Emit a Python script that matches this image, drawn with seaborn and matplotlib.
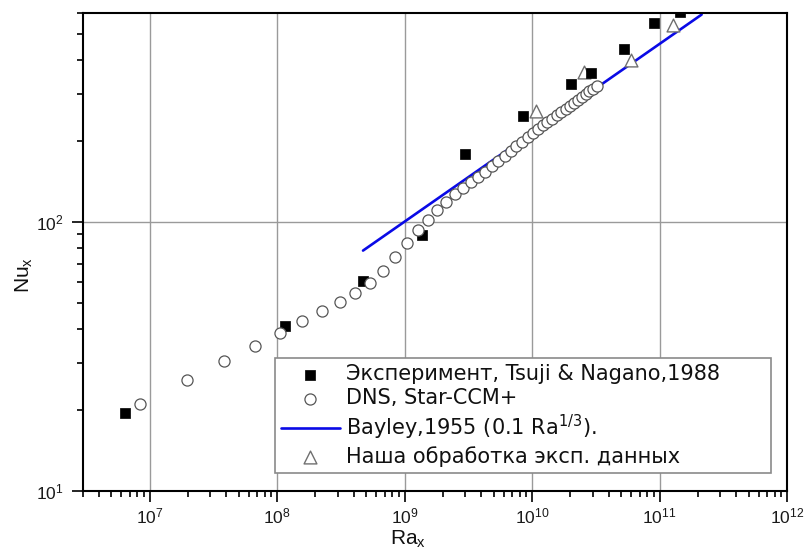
import matplotlib
matplotlib.use("Agg")
import matplotlib.pyplot as plt
import seaborn as sns
import pandas as pd
from matplotlib.ticker import LogLocator, NullFormatter, LogFormatterSciNotation

# ---------------- data ----------------
exp_ra = [6.37e6, 1.15e8, 4.70e8, 1.37e9, 2.97e9, 8.48e9, 2.02e10, 2.90e10, 5.26e10, 9.04e10, 1.45e11]
exp_nu = [19.5, 41.1, 60.4, 89.4, 179.2, 248.9, 327.6, 359.9, 441.1, 551.2, 605.0]

dns_ra = [8.34e6, 1.98e7, 3.86e7, 6.67e7, 1.06e8, 1.58e8, 2.25e8, 3.09e8, 4.11e8, 5.34e8,
          6.79e8, 8.48e8, 1.04e9, 1.27e9, 1.52e9, 1.80e9, 2.12e9, 2.47e9, 2.86e9, 3.29e9,
          3.76e9, 4.27e9, 4.83e9, 5.43e9, 6.08e9, 6.78e9, 7.54e9, 8.34e9, 9.21e9, 1.01e10,
          1.11e10, 1.21e10, 1.32e10, 1.44e10, 1.57e10, 1.70e10, 1.83e10, 1.98e10, 2.13e10,
          2.29e10, 2.46e10, 2.63e10, 2.82e10, 3.01e10, 3.21e10]
dns_nu = [21.0, 25.9, 30.4, 34.6, 38.7, 42.9, 46.7, 50.5, 54.5, 59.4,
          65.9, 74.3, 83.7, 93.6, 102.0, 111.1, 119.0, 127.5, 134.2, 141.3,
          147.5, 153.9, 161.7, 169.0, 176.6, 184.2, 191.8, 199.5, 207.2, 214.9,
          222.1, 229.1, 236.0, 243.0, 250.0, 256.9, 264.1, 271.2, 278.3,
          285.3, 292.5, 299.6, 306.9, 313.8, 321.2]

bayley_ra = [4.72e8, 2.14e11]
bayley_nu = [78.4, 592.0]

our_ra = [1.08e10, 2.57e10, 5.93e10, 1.27e11]
our_nu = [258.3, 363.0, 401.5, 542.0]

lbl_exp = "Эксперимент, Tsuji & Nagano,1988"
lbl_dns = "DNS, Star-CCM+"
lbl_bay = r"Bayley,1955 (0.1 Ra$^{\mathregular{1/3}}$)."
lbl_our = "Наша обработка эксп. данных"
x_label = r"Ra$_\mathregular{x}$"
y_label = r"Nu$_\mathregular{x}$"

# ---------------- style ----------------
sns.set_style("white")
plt.rcParams["font.family"] = ["Liberation Sans", "DejaVu Sans"]
plt.rcParams["mathtext.fontset"] = "custom"
plt.rcParams["mathtext.rm"] = "Liberation Sans"
plt.rcParams["mathtext.it"] = "Liberation Sans:italic"
plt.rcParams["mathtext.bf"] = "Liberation Sans:bold"
plt.rcParams["mathtext.default"] = "regular"
for key in ["text.color", "axes.labelcolor", "xtick.color", "ytick.color", "axes.edgecolor"]:
    plt.rcParams[key] = "black"

fig = plt.figure(figsize=(8.08, 5.54), dpi=100)
ax = fig.add_axes([0.10272, 0.11372, 0.87129, 0.86282])
ax.set_xscale("log")
ax.set_yscale("log")

sns.lineplot(x=bayley_ra, y=bayley_nu, ax=ax, color="#0a0ae6", linewidth=1.9,
             label=lbl_bay, sort=False, estimator=None, zorder=2)
sns.scatterplot(x=our_ra, y=our_nu, ax=ax, marker="^", s=85, color="white",
                edgecolor="#707070", linewidth=1.0, label=lbl_our, zorder=3)
sns.scatterplot(x=exp_ra, y=exp_nu, ax=ax, marker="s", s=48, color="black",
                edgecolor="black", linewidth=0.5, label=lbl_exp, zorder=4)
sns.scatterplot(x=dns_ra, y=dns_nu, ax=ax, marker="o", s=64, color="white",
                edgecolor="#555555", linewidth=0.9, label=lbl_dns, zorder=5)

ax.set_xlim(3e6, 1e12)
ax.set_ylim(10, 600)

ax.xaxis.set_major_locator(LogLocator(base=10, numticks=20))
ax.xaxis.set_minor_locator(LogLocator(base=10, subs=range(2, 10), numticks=20))
ax.yaxis.set_major_locator(LogLocator(base=10, numticks=20))
ax.yaxis.set_minor_locator(LogLocator(base=10, subs=range(2, 10), numticks=20))
ax.xaxis.set_major_formatter(LogFormatterSciNotation())
ax.yaxis.set_major_formatter(LogFormatterSciNotation())
ax.xaxis.set_minor_formatter(NullFormatter())
ax.yaxis.set_minor_formatter(NullFormatter())

ax.tick_params(which="both", direction="out", top=False, right=False,
               bottom=True, left=True, color="black", width=1.2)
ax.tick_params(which="major", length=8, labelsize=12.5, pad=3, labelcolor="#1a1a1a")
ax.tick_params(which="minor", length=4.5)
ax.tick_params(axis="y", which="major", pad=6)

ax.grid(True, which="major", color="#9a9a9a", linewidth=1.0)
ax.set_axisbelow(True)
for sp in ax.spines.values():
    sp.set_visible(True)
    sp.set_color("black")
    sp.set_linewidth(1.5)

ax.set_xlabel(x_label, fontsize=15, color="#111111")
ax.set_ylabel(y_label, fontsize=15, color="#111111")
ax.xaxis.set_label_coords(0.462, -0.078)
ax.yaxis.set_label_coords(-0.068, 0.452)

handles, labels = ax.get_legend_handles_labels()
order = [lbl_exp, lbl_dns, lbl_bay, lbl_our]
hmap = dict(zip(labels, handles))
leg = ax.legend([hmap[k] for k in order], order, loc="lower left",
                bbox_to_anchor=(0.2727, 0.0377, 0.7045, 0.2468), mode="expand",
                borderaxespad=0, prop={"family": ["DejaVu Sans"], "size": 15},
                handlelength=2.8, handletextpad=0.3, labelspacing=0.2,
                borderpad=0.3, fancybox=False, framealpha=1, edgecolor="#8a8a8a",
                labelcolor="#111111")
leg.get_frame().set_linewidth(1.2)
leg.set_zorder(10)

fig.savefig("out.png", dpi=100)
